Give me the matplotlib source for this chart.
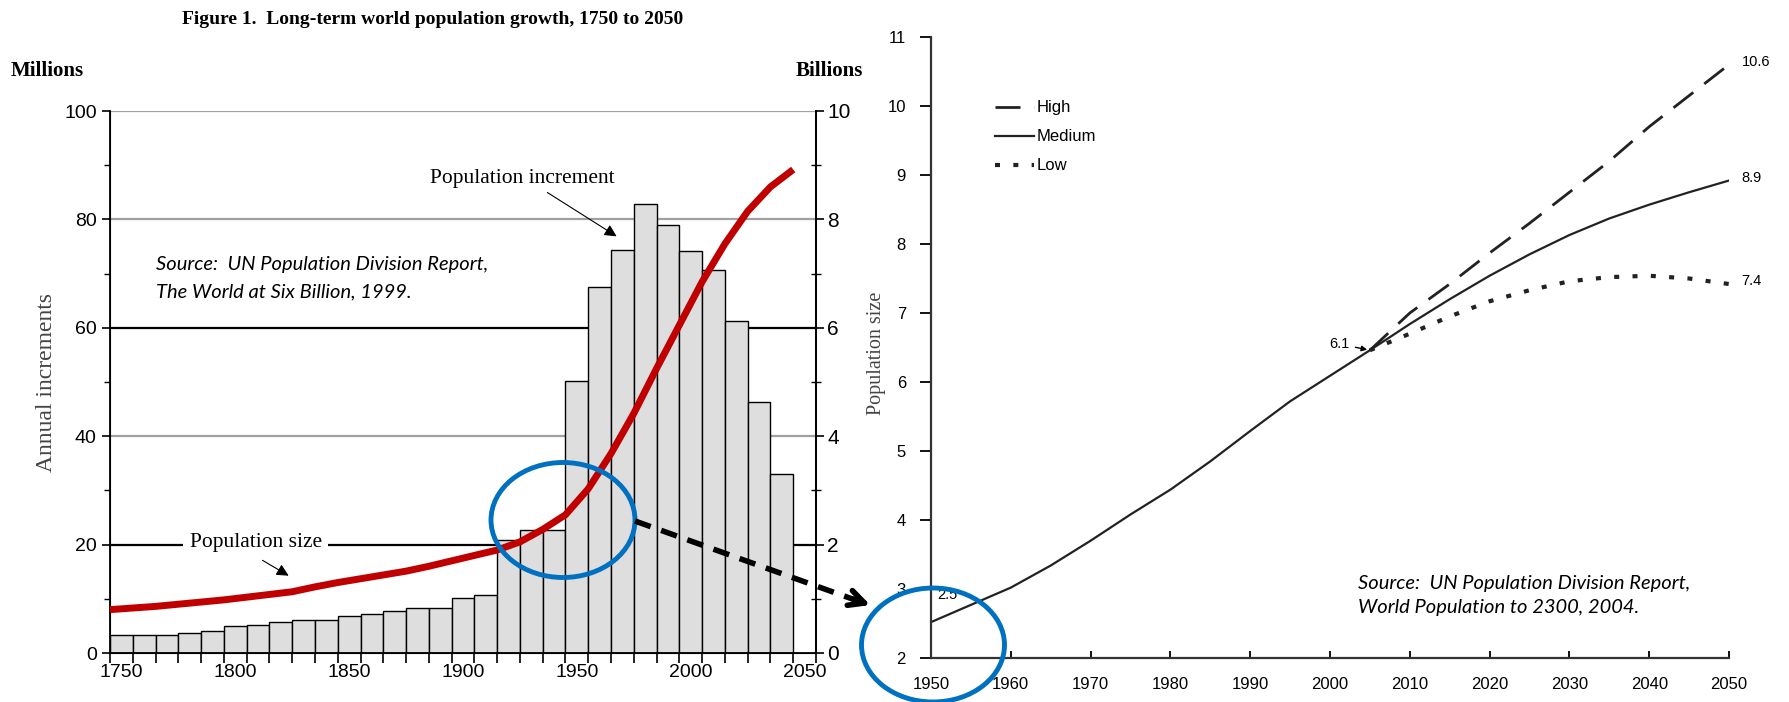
import numpy as np
import matplotlib
matplotlib.use("Agg")
import matplotlib.pyplot as plt
from matplotlib.patches import Ellipse, FancyArrowPatch
from matplotlib.lines import Line2D

# ---- left panel data (UN, The World at Six Billion) ----
decades = np.arange(1750, 2050, 10)
increments = [3.4, 3.4, 3.4, 3.7, 4.1, 4.9, 5.2, 5.8, 6.0, 6.0,
              6.9, 7.2, 7.8, 8.3, 8.3, 10.1, 10.7, 20.9, 22.7, 22.7,
              50.2, 67.5, 74.4, 82.9, 78.9, 74.2, 70.7, 61.2, 46.3, 33.1]
size_years = np.arange(1750, 2060, 10)
pop_size = [0.80, 0.83, 0.86, 0.90, 0.94, 0.98, 1.03, 1.08, 1.13, 1.22,
            1.30, 1.37, 1.44, 1.51, 1.60, 1.70, 1.80, 1.90, 2.05, 2.28,
            2.55, 3.03, 3.68, 4.42, 5.25, 6.05, 6.85, 7.55, 8.15, 8.60, 8.92]
left_ticks = [1750, 1800, 1850, 1900, 1950, 2000, 2050]

# ---- right panel data (UN, World Population to 2300) ----
med_years = np.arange(1950, 2055, 5)
medium = [2.52, 2.77, 3.02, 3.34, 3.70, 4.08, 4.44, 4.85, 5.29, 5.72, 6.09,
          6.46, 6.84, 7.20, 7.54, 7.85, 8.13, 8.37, 8.57, 8.75, 8.92]
var_years = np.arange(2005, 2055, 5)
high = [6.46, 7.0, 7.42, 7.87, 8.3, 8.75, 9.2, 9.7, 10.15, 10.6]
low = [6.46, 6.7, 6.95, 7.17, 7.33, 7.46, 7.52, 7.54, 7.5, 7.42]

narrow = ["Liberation Sans Narrow", "Liberation Sans", "DejaVu Sans"]
serif = ["Liberation Serif", "DejaVu Serif"]
sans = ["Liberation Sans", "DejaVu Sans"]
src_font = ["Lato", "DejaVu Sans"]

fig = plt.figure(figsize=(17.9, 7.02), dpi=100)
W, H = 1790.0, 702.0

# ================= left chart =================
ax = fig.add_axes([110 / W, 49 / H, 706 / W, 542 / H])
ax.set_xlim(1750, 2060)
ax.set_ylim(0, 100)

grid_cols = {20: "black", 40: "#a0a0a0", 60: "black", 80: "#a0a0a0", 100: "#a0a0a0"}
for yv, c in grid_cols.items():
    ax.axhline(yv, color=c, lw=1.6, zorder=0)

ax.bar(decades, increments, width=10, align="edge", color="#dedede",
       edgecolor="black", lw=1.0, zorder=2)

ax.set_xticks(np.array(left_ticks) + 5)
ax.set_xticklabels([str(t) for t in left_ticks], fontfamily=narrow, fontsize=14)
ax.set_xticks(np.arange(1750, 2070, 10), minor=True)
ax.tick_params(axis="x", which="major", length=0, pad=8)
ax.tick_params(axis="x", which="minor", length=7, width=1.2, direction="out")
ax.set_yticks(range(0, 101, 20))
ax.set_yticks(range(10, 100, 20), minor=True)
ax.set_yticklabels([str(v) for v in range(0, 101, 20)], fontfamily=narrow, fontsize=14)
ax.tick_params(axis="y", which="major", length=6, width=1.2)
ax.tick_params(axis="y", which="minor", length=4, width=1.0)
for s in ax.spines.values():
    s.set_linewidth(1.3)
ax.spines["top"].set_visible(False)
ax.set_ylabel("Annual increments", fontfamily=serif, fontsize=17, color="#444444")
ax.yaxis.set_label_coords(-0.075, 0.5)

ax2 = ax.twinx()
ax2.set_ylim(0, 10)
ax2.plot(size_years, pop_size, color="#c00000", lw=5, solid_capstyle="butt",
         solid_joinstyle="round", zorder=5)
ax2.set_yticks(range(0, 11, 2))
ax2.set_yticks(range(1, 10, 2), minor=True)
ax2.set_yticklabels([str(v) for v in range(0, 11, 2)], fontfamily=sans, fontsize=15)
ax2.tick_params(axis="y", which="major", length=6, width=1.2, pad=2)
ax2.tick_params(axis="y", which="minor", length=7, width=1.0, direction="inout")
ax2.spines["top"].set_visible(False)
ax2.spines["right"].set_linewidth(1.3)

ax.annotate("Population increment", xy=(1973.5, 76.6), xytext=(1931, 87.5),
            ha="center", va="center", fontfamily=serif, fontsize=15.5, zorder=6,
            arrowprops=dict(arrowstyle="-|>", color="black", lw=0.8,
                            mutation_scale=18, relpos=(0.6, 0.0)))
ax.annotate("Population size", xy=(1829.5, 14.0), xytext=(1814, 20.3),
            ha="center", va="center", fontfamily=serif, fontsize=15.5, zorder=6,
            bbox=dict(boxstyle="square,pad=0.3", fc="white", ec="none"),
            arrowprops=dict(arrowstyle="-|>", color="black", lw=0.8,
                            mutation_scale=18, relpos=(0.45, 0.0)))

fig.text(433 / W, 1 - 19 / H, "Figure 1.  Long-term world population growth, 1750 to 2050",
         ha="center", va="center", fontfamily=serif, fontsize=14, fontweight="bold")
fig.text(11 / W, 1 - 71 / H, "Millions", ha="left", va="center",
         fontfamily=serif, fontsize=15, fontweight="bold")
fig.text(796 / W, 1 - 71 / H, "Billions", ha="left", va="center",
         fontfamily=serif, fontsize=15, fontweight="bold")
fig.text(156 / W, 1 - 265 / H, "Source:  UN Population Division Report,",
         ha="left", va="center", fontfamily=src_font, style="italic", fontsize=14.5)
fig.text(156 / W, 1 - 292 / H, "The World at Six Billion, 1999.",
         ha="left", va="center", fontfamily=src_font, style="italic", fontsize=14.5)

# ================= right chart =================
bx = fig.add_axes([931 / W, 44 / H, 798 / W, 621 / H])
bx.set_xlim(1950, 2050)
bx.set_ylim(2, 11)
hi_line, = bx.plot(var_years, high, color="#222222", lw=2.0, dashes=(9, 5), label="High")
med_line, = bx.plot(med_years, medium, color="#222222", lw=1.6, label="Medium")
lo_line, = bx.plot(var_years, low, color="#222222", lw=3.0, dashes=(1.2, 3.2), label="Low")

bx.set_xticks(range(1950, 2051, 10))
bx.set_yticks(range(2, 12))
bx.tick_params(axis="x", direction="in", length=5, width=1.3, pad=14)
bx.tick_params(axis="y", direction="out", length=8, width=1.3, pad=10)
for lab in bx.get_xticklabels() + bx.get_yticklabels():
    lab.set_fontfamily(narrow)
    lab.set_fontsize(12)
bx.spines["top"].set_visible(False)
bx.spines["right"].set_visible(False)
bx.spines["left"].set_linewidth(1.6)
bx.spines["bottom"].set_linewidth(1.6)
bx.spines["left"].set_color("#333333")
bx.spines["bottom"].set_color("#333333")
bx.set_ylabel("Population size", fontfamily=serif, fontsize=14.5, color="#444444")
bx.yaxis.set_label_coords(-0.057, 0.49)

bx.legend(handles=[hi_line, med_line, lo_line], loc="upper left",
          bbox_to_anchor=(987 / W, 1 - 92 / H), bbox_transform=fig.transFigure,
          frameon=False, prop={"family": narrow, "size": 12},
          handlelength=2.3, handletextpad=0.2, labelspacing=0.84, borderpad=0)

for val, series in ((high[-1], "10.6"), (medium[-1], "8.9"), (low[-1], "7.4")):
    bx.annotate(series, xy=(2050, val), xytext=(9, 2), textcoords="offset points",
                ha="left", va="center", fontfamily=sans, fontsize=10.5)
bx.annotate("6.1", xy=(2005, 6.46), xytext=(2002.5, 6.55), ha="right", va="center",
            fontfamily=sans, fontsize=10.5,
            arrowprops=dict(arrowstyle="-|>", color="black", lw=1.0, mutation_scale=8))
bx.text(1952, 2.91, "2.5", ha="center", va="center", fontfamily=sans, fontsize=10.5)

fig.text(1358 / W, 1 - 583 / H, "Source:  UN Population Division Report,",
         ha="left", va="center", fontfamily=src_font, style="italic", fontsize=14.5)
fig.text(1358 / W, 1 - 608 / H, "World Population to 2300, 2004.",
         ha="left", va="center", fontfamily=src_font, style="italic", fontsize=14.5)

# ================= connecting callout =================
blue = "#0070c0"
fig.add_artist(Ellipse((563 / W, 1 - 520 / H), 144 / W, 115 / H, transform=fig.transFigure,
                       fill=False, ec=blue, lw=3.5, zorder=10))
fig.add_artist(Ellipse((933 / W, 1 - 645 / H), 143 / W, 114 / H, transform=fig.transFigure,
                       fill=False, ec=blue, lw=3.5, zorder=10))
fig.add_artist(Line2D([635 / W, 858 / W], [1 - 521 / H, 1 - 601 / H], transform=fig.transFigure,
                      color="black", lw=4, dashes=(3, 2), zorder=11))
fig.add_artist(FancyArrowPatch((850 / W, 1 - 598 / H), (873 / W, 1 - 606 / H),
                               transform=fig.transFigure, arrowstyle="->",
                               mutation_scale=28, lw=4, color="black", zorder=11))

fig.savefig("out.png", dpi=100)
